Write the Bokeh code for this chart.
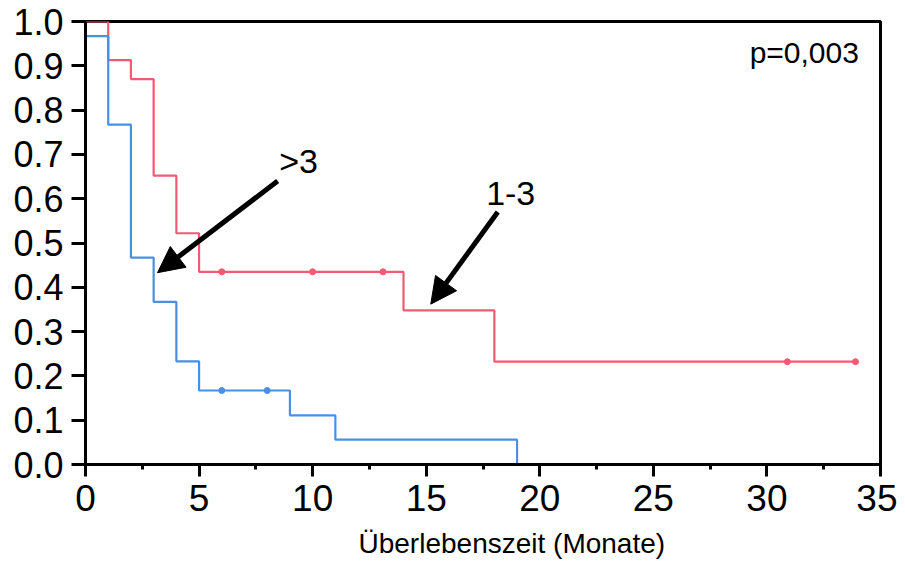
from bokeh.plotting import figure
from bokeh.models import (FixedTicker, CustomJSTickFormatter, Label, Arrow, NormalHead, Range1d, Title)
from bokeh.embed import file_html
from bokeh.resources import INLINE

# Kaplan-Meier step data
red_t = [0, 1, 2, 3, 4, 5, 14, 18, 34]
red_s = [1.0, 0.913, 0.870, 0.652, 0.522, 0.435, 0.348, 0.232, 0.232]
red_cens_t = [6.0, 10.0, 13.1, 30.9, 33.9]
red_cens_s = [0.435, 0.435, 0.435, 0.232, 0.232]

blue_t = [0, 0, 1, 2, 3, 4, 5, 9, 11, 19]
blue_s = [1.0, 0.967, 0.767, 0.467, 0.367, 0.233, 0.167, 0.111, 0.056, 0.0]
blue_cens_t = [6.0, 8.0]
blue_cens_s = [0.167, 0.167]

x_ticks = [0, 5, 10, 15, 20, 25, 30, 35]
x_minor = [2.5, 7.5, 12.5, 17.5, 22.5, 27.5, 32.5]
y_ticks = [0.0, 0.1, 0.2, 0.3, 0.4, 0.5, 0.6, 0.7, 0.8, 0.9, 1.0]

RED = "#F25A73"
BLUE = "#4A90E2"
FONT = "Liberation Sans"

p = figure(width=897, height=570, output_backend="svg", toolbar_location=None,
           x_range=Range1d(0, 35), y_range=Range1d(0, 1.0),
           min_border_left=85, min_border_right=17, min_border_top=21, min_border_bottom=100)
p.grid.visible = False
p.outline_line_color = "black"
p.outline_line_width = 3
p.outline_line_alpha = 1.0

p.step(red_t, red_s, mode="after", line_color=RED, line_width=2.2)
p.step(blue_t, blue_s, mode="after", line_color=BLUE, line_width=2.2)
p.scatter(red_cens_t, red_cens_s, size=6, color=RED)
p.scatter(blue_cens_t, blue_cens_s, size=6, color=BLUE)

# axes
xa = p.xaxis[0]
xa.ticker = FixedTicker(ticks=x_ticks, minor_ticks=x_minor)
xa.axis_line_width = 3
xa.major_tick_line_width = 3
xa.minor_tick_line_width = 3
xa.major_tick_in = 0
xa.major_tick_out = 12
xa.minor_tick_in = 0
xa.minor_tick_out = 5
xa.major_label_text_font = FONT
xa.major_label_text_font_size = "37px"
xa.major_label_text_color = "black"
xa.major_label_standoff = 8

ya = p.yaxis[0]
ya.ticker = FixedTicker(ticks=y_ticks, minor_ticks=[])
ya.formatter = CustomJSTickFormatter(code="return tick.toFixed(1);")
ya.axis_line_width = 3
ya.major_tick_line_width = 3
ya.major_tick_in = 0
ya.major_tick_out = 14
ya.major_label_text_font = FONT
ya.major_label_text_font_size = "36px"
ya.major_label_text_color = "black"
ya.major_label_standoff = 8

# annotations
p.add_layout(Label(x=34.05, y=0.929, text="p=0,003", text_font=FONT, text_font_size="30px",
                   text_align="right", text_baseline="middle", text_color="black"))
p.add_layout(Label(x=9.38, y=0.685, text=">3", text_font=FONT, text_font_size="34px",
                   text_align="center", text_baseline="middle", text_color="black"))
p.add_layout(Label(x=18.72, y=0.612, text="1-3", text_font=FONT, text_font_size="34px",
                   text_align="center", text_baseline="middle", text_color="black"))
p.add_layout(Arrow(x_start=8.46, y_start=0.64, x_end=3.17, y_end=0.433, line_width=5,
                   line_color="black",
                   end=NormalHead(size=26, fill_color="black", line_color="black", line_width=1)))
p.add_layout(Arrow(x_start=18.15, y_start=0.57, x_end=15.2, y_end=0.362, line_width=5,
                   line_color="black",
                   end=NormalHead(size=26, fill_color="black", line_color="black", line_width=1)))
p.add_layout(Title(text="Überlebenszeit (Monate)", align="left", offset=273,
                   text_font=FONT, text_font_size="28px", text_font_style="normal",
                   text_color="black", standoff=24), "below")

open("out.html", "w").write(file_html(p, INLINE))
